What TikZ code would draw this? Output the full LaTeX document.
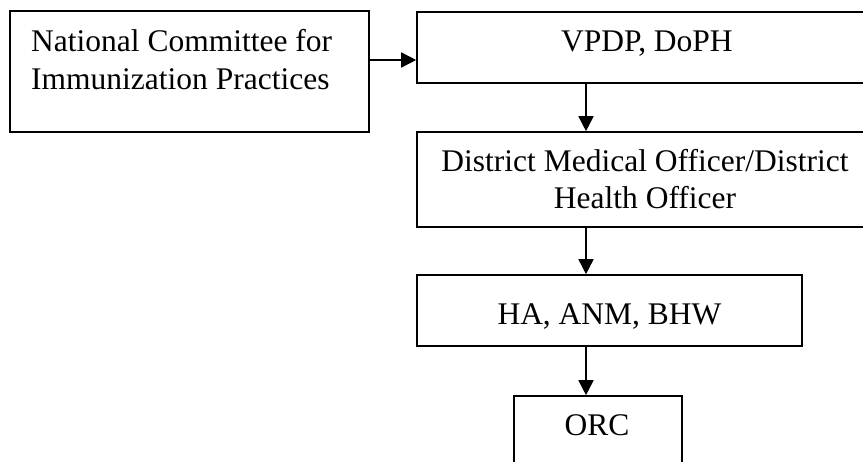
\documentclass[tikz,border=0pt]{standalone}
\usepackage{fontspec}
\setmainfont{Liberation Serif}
\usetikzlibrary{arrows.meta}
\begin{document}
\begin{tikzpicture}[x=1pt,y=-1pt,
  box/.style={draw=black,line width=1.6pt,rectangle,inner sep=0pt,anchor=center},
  lbl/.style={inner sep=0pt,font=\fontsize{31.5}{37}\selectfont},
  arr/.style={line width=1.6pt,-{Triangle[length=15pt,width=15pt]}}]
  \useasboundingbox (0,0) rectangle (863,461);
  \clip (0,0) rectangle (863,461);
  \fill[white] (0,0) rectangle (863,461);

  % boxes
  \node[box,minimum width=359pt,minimum height=121pt] (ncip) at (189.5,71.5) {};
  \node[box,minimum width=460pt,minimum height=71pt]  (vpdp) at (647,47.5) {};
  \node[box,minimum width=460pt,minimum height=95pt]  (dmo)  at (647,179.5) {};
  \node[box,minimum width=385pt,minimum height=71pt]  (ha)   at (609.5,310.5) {};
  \node[box,minimum width=168pt,minimum height=90pt]  (orc)  at (598,441) {};

  % labels
  \node[lbl,anchor=base west] (ncipa) at (31,51.7) {National Committee for};
  \node[lbl,anchor=base west] (ncipb) at (31,89) {Immunization Practices};
  \node[lbl,anchor=base] (vpdpt) at (647,51.7) {VPDP, DoPH};
  \node[lbl,anchor=base] (dmoa) at (645,171.7) {District Medical Officer/District};
  \node[lbl,anchor=base] (dmob) at (645,208.3) {Health Officer};
  \node[lbl,anchor=base] (hat) at (609.5,324) {HA, ANM, BHW};
  \node[lbl,anchor=base] (orct) at (597,435) {ORC};

  % connectors
  \draw[arr] (ncip.east |- 0,60) -- (vpdp.west |- 0,60);
  \draw[arr] (vpdp.south -| 586,0) -- (dmo.north -| 586,0);
  \draw[arr] (dmo.south -| 586,0) -- (ha.north -| 586,0);
  \draw[arr] (ha.south -| 586,0) -- (orc.north -| 586,0);
\end{tikzpicture}
\end{document}
